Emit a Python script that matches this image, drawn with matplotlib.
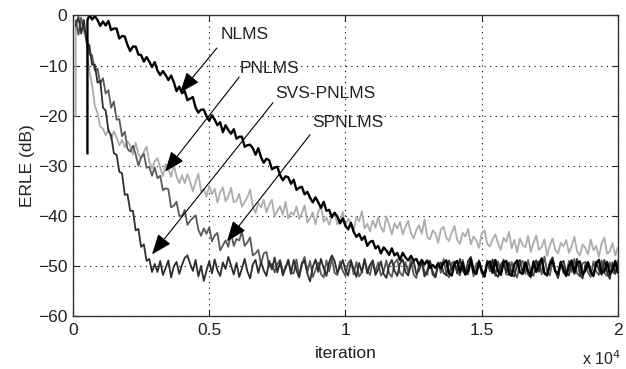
#!/usr/bin/env python3

import numpy as np
import matplotlib
matplotlib.use( 'Agg' )
import matplotlib.pyplot as plt

plt.rcParams['font.family'] = [ 'Liberation Sans', 'DejaVu Sans' ]

step = 100

# SVS-PNLMS (darkest gray, fastest), iterations 100 .. 20000
svsErle = [
    -2.0, -0.3, -3.6, -0.9, -5.4, -5.9, -9.8, -9.8, -13.4, -13.0,
    -18.4, -19.0, -23.0, -23.9, -27.5, -27.8, -31.2, -31.5, -35.8, -35.7,
    -39.0, -39.0, -42.9, -42.6, -46.2, -45.7, -49.0, -48.6, -51.2,
    -49.6, -51.2, -49.0, -51.8, -50.4, -48.9, -52.3, -50.1, -49.2, -51.6,
    -49.8, -48.4, -47.9, -49.6, -51.0, -48.8, -52.1, -50.0, -53.0, -50.9,
    -49.1, -51.5, -48.7, -50.9, -52.0, -49.3, -50.6, -48.2, -49.9, -51.7,
    -49.4, -52.2, -50.5, -48.6, -51.1, -52.5, -49.7, -48.8, -51.4, -49.2,
    -50.9, -52.0, -49.0, -50.7, -48.3, -51.3, -49.1, -51.9, -50.4, -48.9,
    -51.6, -48.8, -50.9, -52.3, -49.6, -49.0, -51.5, -53.1, -50.2, -48.7,
    -51.2, -48.6, -50.5, -52.0, -49.3, -47.9, -49.0, -51.4, -50.3, -48.8,
    -51.0, -51.9, -49.0, -50.6, -52.2, -49.4, -51.3, -48.7, -51.5, -49.8,
    -48.9, -51.8, -50.7, -49.1, -51.6, -52.4, -49.9, -48.8, -51.0, -52.0,
    -49.5, -48.7, -51.2, -51.9, -49.8, -49.0, -51.6, -50.9, -49.2, -52.1,
    -50.9, -49.0, -51.7, -52.3, -49.9, -49.3, -51.4, -51.9, -48.9, -50.8,
    -49.2, -51.5, -48.6, -50.9, -51.8, -49.0, -48.2, -50.6, -51.7, -48.9,
    -50.9, -52.0, -49.1, -50.5, -48.7, -51.6, -52.2, -49.7, -49.0, -51.3,
    -49.3, -51.6, -52.1, -49.6, -48.8, -51.4, -49.2, -51.7, -52.3, -49.7,
    -48.9, -51.2, -48.4, -51.5, -52.0, -49.2, -48.3, -50.9, -52.4, -49.5,
    -49.0, -51.3, -51.9, -49.3, -50.9, -48.6, -51.6, -52.5, -49.8, -49.2,
    -51.4, -52.1, -49.1, -50.8, -51.8, -48.8, -51.3, -52.6, -49.3, -51.5, -49.6,
]

# SPNLMS (medium gray), iterations 100 .. 20000
spErle = [
    -1.0, -3.8, -0.4, -2.9, -4.0, -7.8, -7.9, -11.0, -10.6, -13.6,
    -12.5, -15.6, -14.9, -18.4, -17.2, -20.8, -20.7, -24.1, -23.2, -26.6,
    -27.2, -26.0, -27.7, -30.0, -28.3, -27.6, -30.4, -30.2, -32.0, -30.3,
    -32.5, -32.0, -34.9, -34.5, -34.7, -38.3, -38.0, -37.2, -40.0, -40.0,
    -38.8, -41.8, -41.0, -40.4, -39.9, -42.7, -44.0, -42.5, -43.6, -42.3,
    -45.1, -43.9, -43.4, -46.9, -45.9, -44.9, -46.2, -43.3, -46.0, -44.6,
    -44.9, -43.2, -46.0, -45.3, -44.3, -47.9, -47.5, -46.8, -49.6, -47.5,
    -47.2, -50.2, -49.6, -51.3, -49.6, -48.8, -51.1, -50.4, -48.7, -51.3,
    -51.5, -48.7, -52.0, -49.4, -48.2, -51.3, -49.0, -52.2, -50.8, -49.3,
    -51.6, -52.3, -48.9, -51.1, -48.5, -51.4, -51.8, -49.1, -51.0, -52.0,
    -49.4, -48.8, -51.7, -49.2, -52.1, -51.3, -48.6, -50.9, -51.8, -49.0,
    -51.2, -49.3, -51.9, -51.1, -48.9, -51.5, -52.2, -49.4, -48.7, -51.4,
    -52.0, -49.2, -51.3, -48.8, -51.7, -52.4, -49.5, -49.1, -51.2, -51.8,
    -49.0, -51.1, -52.1, -49.3, -51.4, -48.6, -51.6, -52.3, -49.4, -49.1,
    -51.3, -51.9, -48.8, -51.0, -51.7, -49.0, -52.1, -49.5, -49.2, -51.5,
    -52.2, -48.9, -51.1, -49.4, -52.0, -49.1, -51.4, -48.7, -51.7, -51.8,
    -49.2, -51.2, -52.3, -49.5, -49.0, -51.6, -48.8, -51.3, -52.0, -49.4,
    -49.1, -51.7, -48.1, -51.1, -51.9, -48.9, -51.0, -52.4, -49.3, -51.4,
    -51.8, -49.0, -51.2, -48.6, -51.5, -52.1, -49.5, -49.2, -51.3, -52.2,
    -49.1, -51.1, -51.8, -48.9, -51.4, -52.0, -49.3, -51.2, -51.6, -49.0,
]

# PNLMS (light gray): first sample jump at 100, then iterations 200 .. 20000
pnHeadIter = [ 100, 100 ]
pnHeadErle = [ -20.0, -1.0 ]
pnErle = [
    -3.8, -0.8, -3.2, -5.2, -11.0, -13.9, -18.0, -19.5, -22.2,
    -22.6, -23.9, -22.8, -24.7, -23.1, -24.4, -25.9, -24.8, -26.3, -25.1,
    -25.9, -27.8, -25.4, -27.6, -28.5, -27.2, -26.2, -29.2, -30.5, -29.1,
    -28.5, -30.3, -32.1, -29.7, -30.6, -32.2, -29.8, -32.1, -33.5, -31.9,
    -33.5, -31.7, -33.2, -35.1, -33.3, -31.6, -35.1, -34.7, -36.2, -34.0,
    -35.7, -34.6, -37.4, -35.3, -34.3, -37.1, -36.1, -34.4, -37.3, -37.0,
    -35.6, -38.2, -37.2, -36.3, -34.8, -38.2, -39.4, -37.5, -38.3, -36.8,
    -39.3, -37.8, -36.8, -40.2, -39.0, -38.1, -39.8, -37.2, -40.5, -39.3,
    -39.8, -38.1, -40.6, -39.5, -37.9, -41.3, -40.5, -39.3, -41.7, -39.2,
    -38.1, -41.2, -40.3, -41.8, -40.1, -39.3, -41.7, -41.0, -39.2, -42.1,
    -40.5, -41.5, -42.9, -40.2, -41.1, -39.1, -42.5, -41.6, -43.1, -40.9,
    -42.4, -40.3, -42.3, -43.2, -40.1, -41.8, -43.7, -41.5, -42.5, -41.2,
    -43.7, -42.2, -41.0, -43.5, -44.5, -42.8, -41.9, -43.6, -40.7, -44.2,
    -44.7, -42.9, -43.5, -45.4, -42.7, -42.2, -44.4, -45.0, -43.3, -42.0,
    -44.8, -45.6, -43.4, -44.1, -42.6, -45.7, -44.1, -44.9, -46.4, -43.5,
    -42.9, -45.6, -46.1, -44.7, -43.7, -45.5, -46.8, -44.4, -45.2, -43.2,
    -46.5, -44.8, -47.3, -44.5, -45.8, -46.3, -44.0, -47.2, -45.4, -43.9,
    -46.8, -46.2, -44.7, -48.0, -45.9, -44.5, -46.8, -47.5, -45.4, -46.1,
    -44.8, -47.4, -46.0, -44.2, -47.1, -47.9, -45.7, -46.4, -47.7, -44.7,
    -46.9, -46.0, -48.2, -45.5, -44.3, -47.6, -47.1, -45.4, -47.9, -46.3,
]

# NLMS (black): first sample jump at 530, then iterations 600 .. 20000
nlHeadIter = [ 530, 530 ]
nlHeadErle = [ -27.5, -1.0 ]
nlErle = [
    0.1, -0.8, -0.1, -0.9, -2.1, -1.2, -2.0, -1.1, -2.9, -2.6,
    -2.6, -4.6, -4.1, -4.2, -5.9, -7.1, -6.2, -6.2, -7.8, -7.9,
    -9.2, -8.3, -9.2, -10.3, -9.3, -11.0, -11.9, -11.1, -11.9, -12.9,
    -12.0, -13.3, -15.1, -14.2, -15.5, -15.1, -16.9, -16.6, -16.3, -18.4,
    -19.4, -18.8, -18.8, -20.1, -21.0, -19.9, -20.8, -21.9, -21.3, -23.3,
    -21.9, -22.9, -23.6, -22.7, -24.6, -24.2, -24.2, -26.2, -25.9, -25.8,
    -26.5, -27.8, -26.5, -28.3, -29.4, -28.6, -28.9, -30.7, -30.4, -30.2,
    -31.9, -32.9, -32.1, -32.3, -33.6, -32.8, -34.8, -34.4, -34.2, -35.7,
    -35.2, -36.4, -37.3, -36.3, -37.3, -38.4, -37.2, -39.0, -38.8, -40.3,
    -39.4, -40.1, -41.5, -40.5, -42.0, -42.7, -41.4, -43.2, -44.2, -43.6,
    -44.8, -44.1, -46.0, -45.2, -45.0, -46.5, -46.0, -47.5, -46.3, -46.9,
    -47.8, -46.5, -47.9, -47.4, -48.8, -47.4, -48.3, -48.9, -48.0, -48.9,
    -48.6, -49.8, -48.8, -49.7, -48.9, -50.4, -49.8, -50.4, -49.5, -50.5,
    -49.4, -48.9, -51.5, -51.9, -49.6, -49.0, -51.3, -49.3, -51.7, -51.0,
    -48.7, -51.2, -51.6, -49.2, -50.9, -52.1, -49.5, -49.1, -51.4, -48.8,
    -51.1, -51.8, -49.4, -49.0, -51.5, -52.0, -49.6, -48.9, -51.3, -51.6,
    -49.3, -51.0, -51.9, -49.1, -51.2, -49.5, -48.6, -51.4, -51.8, -49.7,
    -49.0, -51.1, -51.6, -49.2, -50.8, -52.0, -50.0, -48.9, -51.5, -49.4,
    -49.1, -51.7, -51.0, -49.3, -51.2, -51.9, -49.5, -48.8, -51.4, -51.1,
    -49.2, -51.6, -50.9, -49.0, -51.3,
]

# annotation labels: text anchor and arrow tail / head (iteration, dB)
labels      = [ 'NLMS', 'PNLMS', 'SVS-PNLMS', 'SPNLMS' ]
labelIter   = [ 5400, 6130, 7410, 8770 ]
labelErle   = [ -3.7, -10.5, -15.6, -21.4 ]
arrowTail   = [ ( 5280, -6.5 ), ( 6100, -12.3 ), ( 7340, -17.4 ), ( 8700, -23.8 ) ]
arrowHead   = [ ( 3930, -15.4 ), ( 3380, -31.2 ), ( 2900, -47.7 ), ( 5650, -45.1 ) ]

xTicks      = [ 0, 5000, 10000, 15000, 20000 ]
xTickLabels = [ '0', '0.5', '1', '1.5', '2' ]
yTicks      = [ -60, -50, -40, -30, -20, -10, 0 ]


def iterGrid( start, values ):
    iters = np.arange( start, start + step * len( values ), step )
    assert iters[-1] == 20000, ( start, len( values ) )
    return iters


fontSize = 12.5
textColor = '#222222'

fig = plt.figure( figsize = ( 6.26, 3.69 ), dpi = 100 )
ax = fig.add_axes( [ 0.1166, 0.1436, 0.8706, 0.8144 ] )

pnIter = np.concatenate( [ pnHeadIter, iterGrid( 200, pnErle ) ] )
pnAll  = np.concatenate( [ pnHeadErle, pnErle ] )
nlIter = np.concatenate( [ nlHeadIter, iterGrid( 600, nlErle ) ] )
nlAll  = np.concatenate( [ nlHeadErle, nlErle ] )

ax.plot( pnIter, pnAll, color = '#adadad', linewidth = 1.3 )
ax.plot( iterGrid( 100, spErle ), spErle, color = '#5a5a5a', linewidth = 1.3 )
ax.plot( iterGrid( 100, svsErle ), svsErle, color = '#2e2e2e', linewidth = 1.3 )
ax.plot( nlIter, nlAll, color = 'black', linewidth = 1.7 )

for text, tx, ty, tail, head in zip( labels, labelIter, labelErle, arrowTail, arrowHead ):
    ax.text( tx, ty, text, fontsize = fontSize, ha = 'left', va = 'center', color = textColor )
    ax.annotate( '', xy = head, xytext = tail,
                 arrowprops = dict( arrowstyle = '-|>,head_length=0.9,head_width=0.35',
                                    color = 'black', linewidth = 0.8,
                                    shrinkA = 0, shrinkB = 0, mutation_scale = 14 ) )

ax.set_xlim( 0, 20000 )
ax.set_ylim( -60, 0 )
ax.set_xticks( xTicks )
ax.set_xticklabels( xTickLabels )
ax.set_yticks( yTicks )
ax.tick_params( direction = 'in', top = True, right = True, length = 4,
                labelsize = fontSize, colors = textColor )
ax.tick_params( axis = 'x', pad = 5 )
ax.tick_params( axis = 'y', pad = 4 )
ax.grid( True, color = 'black', linestyle = ( 0, ( 1, 4 ) ), linewidth = 0.8 )
for spine in ax.spines.values():
    spine.set_color( '#333333' )
    spine.set_linewidth( 1.0 )

ax.set_xlabel( 'iteration', fontsize = fontSize, labelpad = 6, color = textColor )
ax.set_ylabel( 'ERLE (dB)', fontsize = fontSize, labelpad = 2, color = textColor )
fig.text( 0.992, 0.004, r'x 10$^{4}$', ha = 'right', va = 'bottom',
          fontsize = 11.5, color = textColor )

fig.savefig( 'out.png', dpi = 100 )
